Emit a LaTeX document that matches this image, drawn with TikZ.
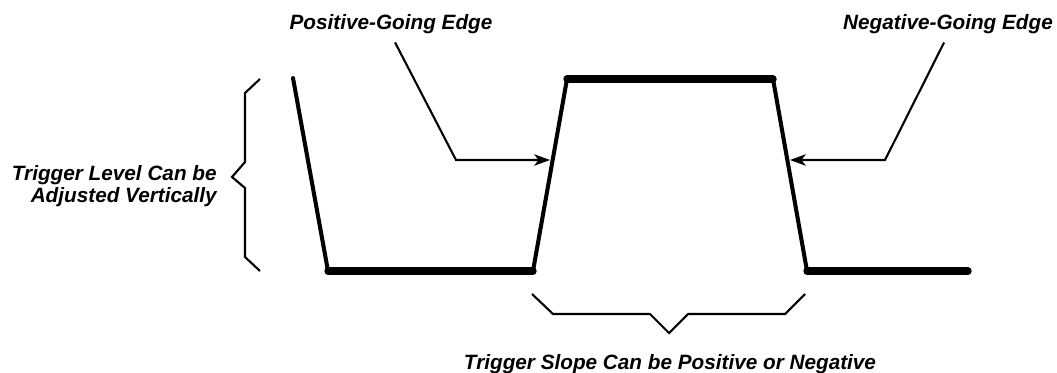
\documentclass[tikz,border=0pt]{standalone}
\usepackage{fontspec}
\setmainfont{Liberation Sans}
\usetikzlibrary{positioning, arrows.meta}

\begin{document}
\begin{tikzpicture}[x=0.02cm, y=-0.02cm,
    lbl/.style={font=\fontsize{11.8}{12.6}\selectfont\bfseries\itshape, inner sep=0pt},
    flat/.style={line width=4.2pt, line cap=round},
    slant/.style={line width=2.3pt, line cap=round},
    leader/.style={line width=1.2pt},
    pointer/.style={leader, -{Stealth[length=9pt, width=6.5pt, inset=2.5pt]}}]
  \useasboundingbox (0,0) rectangle (1057,372);
  % waveform corners
  \coordinate (s0) at (293,78);
  \coordinate (l0) at (328,271);
  \coordinate (l1) at (533,271);
  \coordinate (h0) at (567,79);
  \coordinate (h1) at (773,79);
  \coordinate (l2) at (807,271);
  \coordinate (l3) at (968,271);
  \draw[slant] (s0) -- (l0) (l1) -- (h0) (h1) -- (l2);
  \draw[flat] (l0) -- (l1) (h0) -- (h1) (l2) -- (l3);

  % edge labels and pointers
  \node[lbl, anchor=base] (poslbl) at (391,30) {Positive-Going Edge};
  \node[lbl, anchor=base] (neglbl) at (948,30) {Negative-Going Edge};
  \coordinate (pk) at (456,160);
  \coordinate (nk) at (885,160);
  \coordinate (pos) at (550,160);
  \coordinate (neg) at (790,160);
  \draw[pointer, shorten <=5pt] (poslbl.south) -- (pk) -- (pos);
  \draw[pointer, shorten <=5pt] (neglbl.south) -- (nk) -- (neg);

  % trigger level brace
  \coordinate (lvl) at (232,177);
  \draw[leader] (260,79) -- (245,93) -- (245,162) -- (lvl) -- (245,188) -- (245,257) -- (260,271);
  \node[lbl, align=right, anchor=east] (lvllbl) at (217,186) {Trigger Level Can be\\Adjusted Vertically};

  % trigger slope brace
  \coordinate (slp) at (669,333);
  \draw[leader] (532,294) -- (553,314) -- (650,314) -- (slp) -- (688,314) -- (785,314) -- (805,294);
  \node[lbl, anchor=base] (slplbl) at (670,369) {Trigger Slope Can be Positive or Negative};
\end{tikzpicture}
\end{document}
